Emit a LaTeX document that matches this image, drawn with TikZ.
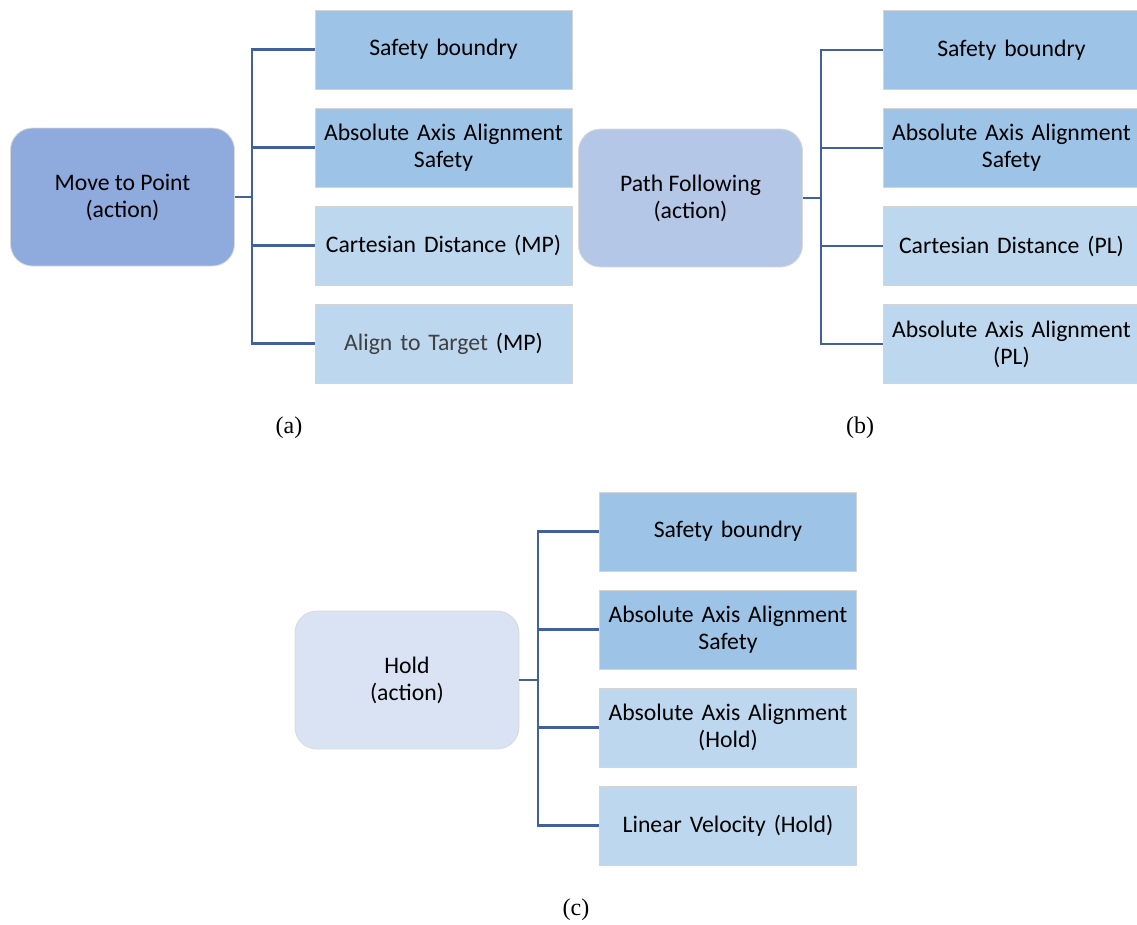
\documentclass[tikz,border=0pt]{standalone}
\usepackage{fontspec}
\setmainfont{Carlito}
\newfontfamily\capfont{Liberation Serif}
\begin{document}
\begin{tikzpicture}[x=1bp,y=-1bp,
  every node/.style={font=\fontsize{23.7bp}{27bp}\selectfont, align=center, inner sep=0pt},
  actionbox/.style={rounded corners=22bp, draw=black!15, line width=0.8bp,
    minimum width=224bp, minimum height=138bp},
  leaf/.style={rectangle, draw=black!17, line width=0.8bp,
    minimum width=257bp, minimum height=79bp, text width=252bp},
  darkleaf/.style={leaf, fill=leafdark},
  lightleaf/.style={leaf, fill=leaflight},
  conn/.style={draw=linkblue, line width=2.2bp},
  caption/.style={font=\capfont\fontsize{24bp}{28bp}\selectfont}]
\definecolor{leafdark}{HTML}{9DC3E6}
\definecolor{leaflight}{HTML}{BDD7EE}
\definecolor{linkblue}{HTML}{41609C}
\definecolor{actA}{HTML}{8FAADC}
\definecolor{actB}{HTML}{B4C7E7}
\definecolor{actC}{HTML}{DAE3F3}
\definecolor{mutedtext}{HTML}{404040}
\useasboundingbox (0,0) rectangle (1137,925);
\clip (0,0) rectangle (1137,925);

% (a) Move to Point
\node[actionbox, fill=actA] (ma) at (122.5,197) {Move to Point\\(action)};
\node[darkleaf]  (a1) at (443.5,49.5)  {Safety boundry};
\node[darkleaf]  (a2) at (443.5,147.5) {Absolute Axis Alignment\\Safety};
\node[lightleaf] (a3) at (443.5,245.5) {Cartesian Distance (MP)};
\node[lightleaf] (a4) at (443.5,343.5) {\textcolor{mutedtext}{Align to Target} (MP)};
\coordinate (ta) at (252,0);
\draw[conn] (ma.east) -- (ma.east -| ta);
\draw[conn] (a1.west) -- (a1.west -| ta) -- (a4.west -| ta) -- (a4.west);
\draw[conn] (a2.west) -- (a2.west -| ta);
\draw[conn] (a3.west) -- (a3.west -| ta);
\node[caption] (capa) at (289,428) {(a)};

% (b) Path Following
\node[actionbox, fill=actB] (mb) at (690.5,198) {Path Following\\(action)};
\node[darkleaf]  (b1) at (1011.5,50)  {Safety boundry};
\node[darkleaf]  (b2) at (1011.5,148) {Absolute Axis Alignment\\Safety};
\node[lightleaf] (b3) at (1011.5,246) {Cartesian Distance (PL)};
\node[lightleaf] (b4) at (1011.5,344) {Absolute Axis Alignment\\(PL)};
\coordinate (tb) at (821,0);
\draw[conn] (mb.east) -- (mb.east -| tb);
\draw[conn] (b1.west) -- (b1.west -| tb) -- (b4.west -| tb) -- (b4.west);
\draw[conn] (b2.west) -- (b2.west -| tb);
\draw[conn] (b3.west) -- (b3.west -| tb);
\node[caption] (capb) at (860,428) {(b)};

% (c) Hold
\node[actionbox, fill=actC] (mc) at (407,680) {Hold\\(action)};
\node[darkleaf]  (c1) at (728,531.5) {Safety boundry};
\node[darkleaf]  (c2) at (728,629.5) {Absolute Axis Alignment\\Safety};
\node[lightleaf] (c3) at (728,727.5) {Absolute Axis Alignment\\(Hold)};
\node[lightleaf] (c4) at (728,825.5) {Linear Velocity (Hold)};
\coordinate (tc) at (538,0);
\draw[conn] (mc.east) -- (mc.east -| tc);
\draw[conn] (c1.west) -- (c1.west -| tc) -- (c4.west -| tc) -- (c4.west);
\draw[conn] (c2.west) -- (c2.west -| tc);
\draw[conn] (c3.west) -- (c3.west -| tc);
\node[caption] (capc) at (576,910) {(c)};
\end{tikzpicture}
\end{document}
